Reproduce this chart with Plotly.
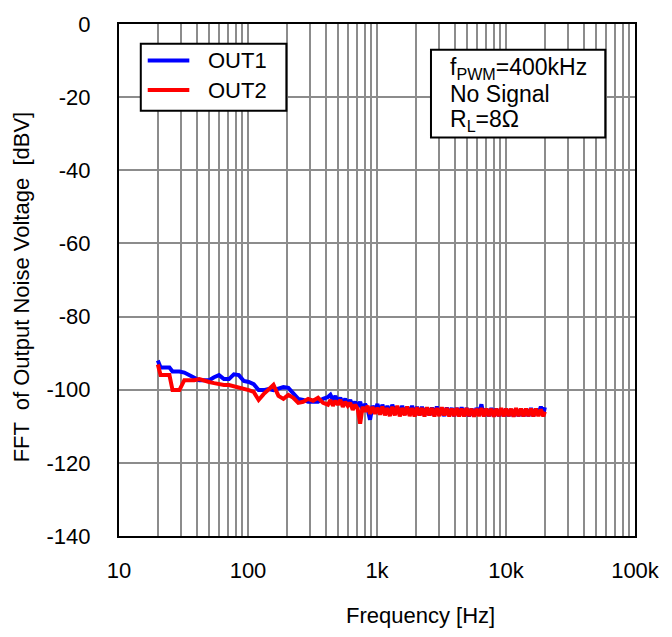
import plotly.graph_objects as go

# Frequency points [Hz]
freq = [20.0, 21.0, 22.6, 24.6, 26.0, 26.9, 29.4, 32.1, 35.1, 38.3, 41.9, 45.7, 50.0, 54.6,
        59.6, 65.1, 71.2, 77.7, 84.9, 92.8, 101.3, 110.7, 120.9, 132.1, 144.3, 157.6, 172.2,
        188.1, 205.5, 224.5, 245.2, 267.9, 292.6, 319.7, 349.2, 381.5,
        416.7, 435.5, 455.2, 475.8, 497.3, 519.7, 543.2, 567.8, 593.4, 620.2, 648.2, 677.5,
        708.1, 740.1, 773.5, 808.5, 845.0, 883.2, 923.1, 964.8, 1008, 1054, 1101, 1151, 1203,
        1257, 1314, 1374, 1436, 1501, 1568, 1639, 1713, 1791, 1871, 1956, 2044, 2137, 2233,
        2334, 2440, 2550, 2665, 2786, 2911, 3043, 3180, 3324, 3474, 3631, 3795, 3967, 4146,
        4333, 4529, 4734, 4947, 5171, 5404, 5648, 5904, 6170, 6449, 6741, 7045, 7364, 7696,
        8044, 8407, 8787, 9184, 9599, 10030, 10490, 10960, 11450, 11970, 12510, 13080, 13670,
        14290, 14930, 15610, 16310, 17050, 17820, 18620, 19460, 20000]

out1 = [-92.0, -93.9, -93.9, -93.9, -95.0, -95.0, -95.0, -95.3, -96.0, -96.6, -97.4, -97.4,
        -97.4, -96.6, -96.0, -97.1, -97.1, -95.8, -96.0, -97.6, -97.9, -98.5, -100.1, -100.1,
        -99.8, -100.1, -99.8, -99.3, -99.5, -101.2, -102.5, -102.8, -103.3, -103.3, -103.3,
        -102.5,
        -102.0, -101.4, -102.8, -101.7, -103.3, -102.2, -103.6, -102.5, -104.1, -102.8, -104.4,
        -103.3, -104.7, -103.3, -105.5, -103.9, -105.2, -108.2, -104.4, -105.8, -103.9,
        -106.3, -104.1, -106.3, -104.4, -106.6, -104.1, -106.0, -104.7, -106.6, -104.4, -106.8,
        -104.7, -106.6, -104.4, -106.8, -104.7, -107.0, -104.7, -106.8, -104.9, -107.0, -104.9,
        -106.8, -104.6, -107.0, -105.0, -107.2, -104.9, -107.0, -105.0, -107.2, -105.0, -107.0,
        -104.8, -107.2, -105.0, -107.3, -105.2, -107.2, -105.0, -106.8, -104.0, -107.3, -105.2,
        -107.2, -105.0, -107.3, -105.2, -107.2, -105.2, -107.3, -105.2, -107.2, -105.4, -107.3,
        -105.2, -107.2, -105.4, -107.3, -105.2, -107.2, -105.0, -107.2, -105.2, -106.8, -104.6,
        -106.8, -104.8]

out2 = [-93.1, -96.0, -96.0, -96.0, -100.1, -100.1, -100.1, -97.4, -97.4, -97.4, -97.1, -97.6,
        -97.9, -98.2, -98.5, -98.7, -98.7, -99.0, -99.3, -99.8, -100.1, -100.6, -102.8, -101.2,
        -99.8, -98.7, -101.7, -102.5, -101.4, -102.2, -103.6, -103.3, -102.5, -103.0, -102.2,
        -103.6,
        -104.1, -102.8, -104.4, -103.0, -104.1, -102.8, -104.7, -103.3, -104.4, -103.6, -105.5,
        -104.1, -105.2, -109.3, -104.7, -106.0, -104.4, -106.6, -104.7, -106.6, -104.9,
        -106.8, -104.6, -107.0, -105.0, -107.2, -104.7, -107.0, -104.4, -107.3, -105.0, -107.0,
        -104.6, -107.2, -105.0, -107.3, -104.8, -107.0, -105.0, -107.3, -104.8, -107.0, -105.0,
        -107.3, -105.0, -107.2, -104.8, -107.0, -105.0, -107.3, -105.2, -107.2, -105.0, -107.3,
        -105.2, -107.3, -105.0, -107.2, -105.2, -107.4, -105.2, -107.2, -105.0, -107.3, -105.2,
        -107.2, -105.2, -107.4, -105.2, -107.2, -105.0, -107.3, -105.2, -107.2, -105.2, -107.4,
        -105.0, -107.2, -105.2, -107.3, -105.2, -107.2, -105.2, -107.3, -105.2, -107.2, -105.4,
        -107.3, -106.0]

series_names = ["OUT1", "OUT2"]
series_colors = ["#0000ff", "#ff0000"]

x_tickvals = [10, 100, 1000, 10000, 100000]
x_ticktext = ["10", "100", "1k", "10k", "100k"]
y_tickvals = [0, -20, -40, -60, -80, -100, -120, -140]
y_ticktext = ["0", "-20", "-40", "-60", "-80", "-100", "-120", "-140"]

FONT = "Liberation Sans, Arial, sans-serif"
GRID = "#8c8c8c"

# plot area in pixels (for placing paper-referenced decorations)
L, R, T, B = 119, 640, 17, 536
W, H = R - L, B - T


def px(x):
    return (x - L) / W


def py(y):
    return (B - y) / H


fig = go.Figure()
for vals, name, col in zip([out1, out2], series_names, series_colors):
    fig.add_trace(go.Scatter(x=freq, y=vals, mode="lines", name=name, showlegend=False,
                             line=dict(color=col, width=4)))

fig.update_layout(
    width=672, height=637,
    margin=dict(l=L, r=672 - R, t=T, b=637 - B),
    paper_bgcolor="white", plot_bgcolor="white",
    font=dict(family=FONT, size=22, color="black"),
    showlegend=False,
)
fig.update_xaxes(type="log", range=[1, 5], tickvals=x_tickvals, ticktext=x_ticktext,
                 showgrid=True, gridcolor=GRID, gridwidth=2,
                 minor=dict(dtick="D1", showgrid=True, gridcolor=GRID, gridwidth=1.5),
                 showline=True, linecolor="black", linewidth=2, mirror=True,
                 ticks="", ticklabelstandoff=14, tickfont=dict(size=22))
fig.update_yaxes(range=[-140, 0], tickvals=y_tickvals, ticktext=y_ticktext,
                 showgrid=True, gridcolor=GRID, gridwidth=2, zeroline=False,
                 showline=True, linecolor="black", linewidth=2, mirror=True,
                 ticks="", ticklabelstandoff=22, tickfont=dict(size=22))

# axis titles
fig.add_annotation(text="Frequency [Hz]", xref="paper", yref="paper", x=px(423), y=py(617),
                   showarrow=False, xanchor="center", yanchor="middle", font=dict(size=22))
fig.add_annotation(text="FFT  of Output Noise Voltage  [dBV]", xref="paper", yref="paper",
                   x=px(20), y=py(283), textangle=-90, showarrow=False,
                   xanchor="center", yanchor="middle", font=dict(size=22))

# legend box (manual)
fig.add_shape(type="rect", xref="paper", yref="paper",
              x0=px(141), x1=px(288), y0=py(105), y1=py(37),
              line=dict(color="black", width=2), fillcolor="white", layer="above")
for i, (name, col) in enumerate(zip(series_names, series_colors)):
    ypix = 54 + 30 * i
    fig.add_shape(type="line", xref="paper", yref="paper",
                  x0=px(148), x1=px(190), y0=py(ypix), y1=py(ypix),
                  line=dict(color=col, width=4), layer="above")
    fig.add_annotation(text=name, xref="paper", yref="paper", x=px(207), y=py(ypix),
                       xanchor="left", yanchor="middle", showarrow=False,
                       font=dict(size=22))

# condition box
fig.add_shape(type="rect", xref="paper", yref="paper",
              x0=px(434), x1=px(610), y0=py(132), y1=py(43),
              line=dict(color="black", width=2), fillcolor="white", layer="above")
for txt, ypix in [("f<sub>PWM</sub>=400kHz", 62), ("No Signal", 88),
                  ("R<sub>L</sub>=8Ω", 115)]:
    fig.add_annotation(text=txt, xref="paper", yref="paper",
                       x=px(451), y=py(ypix),
                       xanchor="left", yanchor="middle", showarrow=False,
                       font=dict(size=23))

fig.write_html("out.html")
